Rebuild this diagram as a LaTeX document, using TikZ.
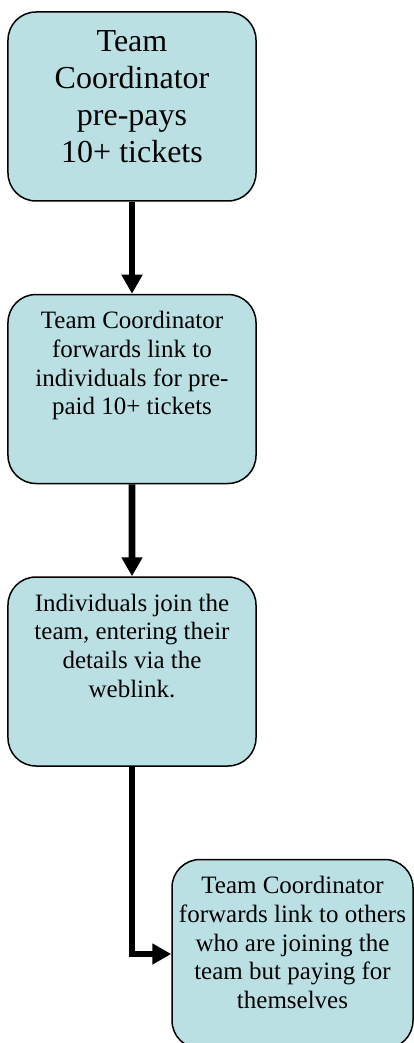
\documentclass[tikz,border=0pt]{standalone}
\usepackage{fontspec}
\setmainfont{Liberation Serif}
\usepackage{xcolor}
\usetikzlibrary{arrows.meta}
\definecolor{boxblue}{HTML}{BBE0E3}
\tikzset{
	main box/.style={draw,fill=boxblue,line width=1.5pt,rounded corners=28pt,
		inner sep=0pt,minimum width=248pt,minimum height=189pt},
	big text/.style={font=\fontsize{32}{37}\selectfont},
	small text/.style={font=\fontsize{25}{28.75}\selectfont}
}
\newcommand{\boxlines}[2]{\parbox[c][189pt][t]{#1}{\centering\vspace*{14pt}\strut #2}}

\begin{document}
\begin{tikzpicture}[->,>={Triangle[width=20pt,length=19pt]},line width=6.7pt,
		    level distance=282.5pt,edge from parent/.style={draw,line join=miter}]
		    \useasboundingbox (-132pt,106.5pt) rectangle (282pt,-936.5pt);
		    \node [main box,big text] (coord) {\boxlines{236pt}{Team\\ Coordinator\\ pre-pays\\ 10+ tickets}}
		    child {node [main box,small text] (forward) {\boxlines{236pt}{Team Coordinator\\ forwards link to\\ individuals for pre-\\ paid 10+ tickets}}
		      child {node [main box,small text] (join) {\boxlines{236pt}{Individuals join the\\ team, entering their\\ details via the\\ weblink.}}
		        child [xshift=160.5pt,edge from parent path={(\tikzparentnode.south) |- (\tikzchildnode.west)}]
		        {node [main box,small text,minimum width=241pt] (others) {\boxlines{232pt}{Team Coordinator\\ forwards link to others\\ who are joining the\\ team but paying for\\ themselves}}}
		      }};
\end{tikzpicture}
\end{document}
